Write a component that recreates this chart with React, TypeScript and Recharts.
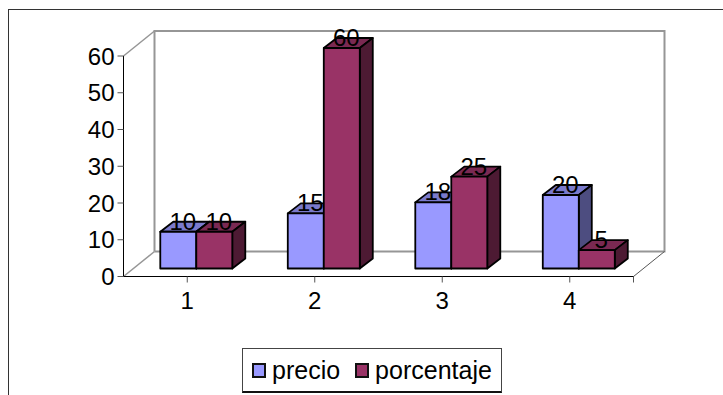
import { BarChart, Bar, XAxis, YAxis, Legend, LabelList } from 'recharts'

const categories = ['1', '2', '3', '4']
const precio = [10, 15, 18, 20]
const porcentaje = [10, 60, 25, 5]
const yTicks = [0, 10, 20, 30, 40, 50, 60]

const data = categories.map((name, i) => ({ name, precio: precio[i], porcentaje: porcentaje[i] }))

const FONT = '"Liberation Sans", Arial, sans-serif'

const W = 723
const H = 395
const PLOT_LEFT = 123.5
const PLOT_RIGHT = 633.5
const PLOT_TOP = 56
const PLOT_BOTTOM = 276.5
const Y_AXIS_W = 60
const X_AXIS_H = 30
const LEGEND_H = 45

// 3d depth of the walls, and where the bars sit inside that depth
const WALL_DX = 31
const WALL_DY = 25
const BAR_SHIFT_X = 9.5
const BAR_SHIFT_Y = 8
const BAR_DX = 13
const BAR_DY = 10

function Bar3D(props: any) {
  const { x, y, width, height, front, top, side } = props
  const l = x + BAR_SHIFT_X
  const r = l + width
  const t = y - BAR_SHIFT_Y
  const b = t + height
  return (
    <g stroke="#000" strokeWidth={1.8} strokeLinejoin="round">
      <polygon points={`${l},${t} ${l + BAR_DX},${t - BAR_DY} ${r + BAR_DX},${t - BAR_DY} ${r},${t}`} fill={top} />
      <polygon points={`${r},${t} ${r + BAR_DX},${t - BAR_DY} ${r + BAR_DX},${b - BAR_DY} ${r},${b}`} fill={side} />
      <rect x={l} y={t} width={width} height={height} fill={front} />
    </g>
  )
}

function BarValue(props: any) {
  const { x, y, width, value } = props
  return (
    <text
      x={x + width / 2 + BAR_SHIFT_X + 4.5}
      y={y - BAR_SHIFT_Y - 2}
      textAnchor="middle"
      fontFamily={FONT}
      fontSize={24}
      fill="#000"
    >
      {value}
    </text>
  )
}

function Walls() {
  const bx = PLOT_LEFT + WALL_DX
  const rx = PLOT_RIGHT + WALL_DX
  const ty = PLOT_TOP - WALL_DY
  const by = PLOT_BOTTOM - WALL_DY
  return (
    <g fill="none">
      <polyline points={`${bx},${by} ${bx},${ty} ${rx},${ty} ${rx},${by} ${bx},${by}`} stroke="#969696" strokeWidth={2} />
      <line x1={PLOT_LEFT} y1={PLOT_TOP} x2={bx} y2={ty} stroke="#969696" strokeWidth={1.5} />
      <line x1={PLOT_LEFT} y1={PLOT_BOTTOM} x2={bx} y2={by} stroke="#969696" strokeWidth={1.5} />
      <line x1={PLOT_RIGHT} y1={PLOT_BOTTOM} x2={rx} y2={by} stroke="#555" strokeWidth={1} />
      <line x1={PLOT_RIGHT} y1={PLOT_BOTTOM} x2={PLOT_RIGHT} y2={PLOT_BOTTOM + 6} stroke="#555" strokeWidth={1} />
    </g>
  )
}

function LegendBox({ payload }: any) {
  return (
    <div
      style={{
        display: 'flex',
        alignItems: 'center',
        gap: 15,
        boxSizing: 'border-box',
        width: 260,
        height: LEGEND_H,
        paddingLeft: 9,
        border: '1px solid #444',
        borderBottomWidth: 2,
        borderBottomColor: '#111',
        background: '#fff',
        fontFamily: FONT,
        fontSize: 25,
        color: '#000',
      }}
    >
      {(payload || []).map((p: any) => (
        <span key={p.value} style={{ display: 'flex', alignItems: 'center', gap: 6 }}>
          <span style={{ width: 14, height: 15, boxSizing: 'border-box', border: '2px solid #111', background: p.color }} />
          {p.value}
        </span>
      ))}
    </div>
  )
}

export default function App() {
  return (
    <div style={{ position: 'absolute', left: 0, top: 0, width: W, height: H, overflow: 'hidden', background: '#fff' }}>
      <div style={{ position: 'absolute', left: 8, top: 9, width: W, height: H, border: '1.5px solid #333' }} />
      <BarChart
        width={W}
        height={H}
        data={data}
        barCategoryGap="21.4%"
        barGap={0}
        margin={{
          left: PLOT_LEFT - Y_AXIS_W,
          right: W - PLOT_RIGHT,
          top: PLOT_TOP,
          bottom: H - PLOT_BOTTOM - X_AXIS_H - LEGEND_H,
        }}
        style={{ position: 'absolute', left: 0, top: 0 }}
      >
        <Walls />
        <XAxis
          dataKey="name"
          height={X_AXIS_H}
          stroke="#000"
          tick={{ fill: '#000', fontSize: 24, fontFamily: FONT }}
          tickLine={{ stroke: '#555' }}
          tickSize={6}
          tickMargin={9}
        />
        <YAxis
          width={Y_AXIS_W}
          domain={[0, 60]}
          ticks={yTicks}
          interval={0}
          stroke="#000"
          tick={{ fill: '#000', fontSize: 24, fontFamily: FONT }}
          tickLine={{ stroke: '#555' }}
          tickSize={6}
          tickMargin={3}
        />
        <Legend
          layout="horizontal"
          verticalAlign="bottom"
          itemSorter={null}
          wrapperStyle={{ position: 'absolute', left: 242, top: 348, width: 260 }}
          content={<LegendBox />}
        />
        <Bar
          dataKey="precio"
          name="precio"
          fill="#9999FF"
          isAnimationActive={false}
          shape={(p: any) => <Bar3D {...p} front="#9999FF" top="#7A7ACC" side="#4D4D80" />}
        >
          <LabelList dataKey="precio" content={<BarValue />} />
        </Bar>
        <Bar
          dataKey="porcentaje"
          name="porcentaje"
          fill="#993366"
          isAnimationActive={false}
          shape={(p: any) => <Bar3D {...p} front="#993366" top="#7A2952" side="#4D1A33" />}
        >
          <LabelList dataKey="porcentaje" content={<BarValue />} />
        </Bar>
      </BarChart>
    </div>
  )
}
